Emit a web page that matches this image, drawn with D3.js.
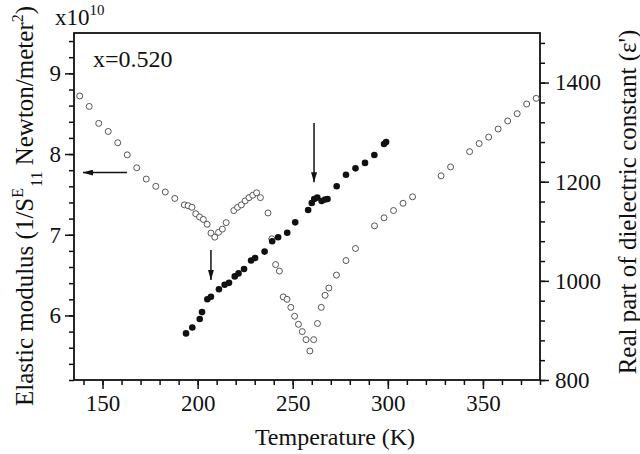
<!DOCTYPE html>
<html><head><meta charset="utf-8">
<script src="https://cdn.jsdelivr.net/npm/d3@7"></script>
<style>
html,body{margin:0;padding:0;background:#fff;}
svg{display:block;}
svg text{font-family:"Liberation Serif","DejaVu Serif","Times New Roman",Times,serif !important;fill:#111;}
</style></head>
<body>
<svg id="chart" width="640" height="454"></svg>
<script>
// Elastic modulus (open circles, left axis, x1e10 N/m^2)
const modT = [138,143,148,153,158,163,168,173,178,183,188,193,195,197,199,201,203,205,207,209,211,213,215,219,221,223,225,227,229,231,233,237,239,241,243,245,247,249,251,253,255,257,259,261,263,265,267,269,273,278,283,293,298,303,308,313,328,333,343,348,353,358,363,368,373,378];
const modE = [8.72,8.59,8.38,8.28,8.14,7.99,7.83,7.69,7.60,7.53,7.45,7.37,7.36,7.34,7.26,7.22,7.19,7.13,7.02,6.97,7.03,7.07,7.15,7.30,7.34,7.37,7.42,7.46,7.49,7.52,7.46,7.27,6.95,6.63,6.55,6.23,6.20,6.10,5.99,5.89,5.80,5.70,5.56,5.70,5.90,6.10,6.25,6.34,6.50,6.68,6.83,7.11,7.21,7.30,7.39,7.47,7.73,7.84,8.03,8.13,8.21,8.31,8.41,8.50,8.62,8.69];
// Real part of dielectric constant (filled circles, right axis)
const dielT = [193.9,197.2,201.1,202.3,205.1,207.0,211.2,214.2,216.5,219.5,221.5,224.4,228.1,230.2,235.2,239.2,242.3,247.1,251.3,258.1,260.0,261.3,262.9,265.2,267.0,268.3,273.1,278.0,283.0,288.0,292.9,298.0,299.1];
const dielE = [894,906,923,937,963,968,983,992,996,1009,1015,1024,1041,1046,1059,1080,1088,1097,1118,1143,1157,1165,1168,1161,1164,1165,1191,1214,1227,1238,1254,1276,1280];
// Ticks
const xTicks = [150,200,250,300,350];
const yLeftTicks = [6,7,8,9];
const yRightTicks = [800,1000,1200,1400];
// Arrow annotations in data coords (T, E on left axis)
const arrows = [
  {x1:162.9, y1:7.77, x2:139.7, y2:7.77},
  {x1:207.0, y1:6.81, x2:207.0, y2:6.44},
  {x1:261.2, y1:8.385, x2:261.2, y2:7.65}
];

const FONT = '"Liberation Serif","DejaVu Serif","Times New Roman",Times,serif';
const svg = d3.select("#chart");
const L=74, R=540, T=33, B=380;
const x = d3.scaleLinear().domain([135,380]).range([L,R]);
const yL = d3.scaleLinear().domain([5.2,9.5]).range([B,T]);
const yR = d3.scaleLinear().domain([800,1500]).range([B,T]);

const fs = 23;
function styleAxis(g){
  g.attr("font-family",FONT);
  g.selectAll(".domain").remove();
  g.selectAll(".tick line").attr("stroke","#111").attr("stroke-width",1.5);
  g.selectAll(".tick text").attr("font-size",fs).attr("font-family",FONT).attr("fill","#111");
}
// minor ticks
svg.append("g").attr("transform",`translate(0,${B})`)
  .call(d3.axisBottom(x).tickValues(d3.range(140,381,10)).tickSize(5).tickFormat(""))
  .call(styleAxis);
svg.append("g").attr("transform",`translate(${L},0)`)
  .call(d3.axisLeft(yL).tickValues(d3.range(5.2,9.45,0.2)).tickSize(5).tickFormat(""))
  .call(styleAxis);
svg.append("g").attr("transform",`translate(${R},0)`)
  .call(d3.axisRight(yR).tickValues(d3.range(800,1501,40)).tickSize(5).tickFormat(""))
  .call(styleAxis);
// major ticks
svg.append("g").attr("transform",`translate(0,${B})`)
  .call(d3.axisBottom(x).tickValues(xTicks).tickSize(9).tickPadding(6).tickFormat(d3.format("d")))
  .call(styleAxis);
svg.append("g").attr("transform",`translate(${L},0)`)
  .call(d3.axisLeft(yL).tickValues(yLeftTicks).tickSize(9).tickPadding(4).tickFormat(d3.format("d")))
  .call(styleAxis);
svg.append("g").attr("transform",`translate(${R},0)`)
  .call(d3.axisRight(yR).tickValues(yRightTicks).tickSize(9).tickPadding(6).tickFormat(d3.format("d")))
  .call(styleAxis);

// frame
svg.append("rect").attr("x",L).attr("y",T).attr("width",R-L).attr("height",B-T)
  .attr("fill","none").attr("stroke","#111").attr("stroke-width",1.8);

// data: open circles first
svg.append("g").selectAll("circle").data(modT).join("circle")
  .attr("cx",(d)=>x(d)).attr("cy",(d,i)=>yL(modE[i])).attr("r",3)
  .attr("fill","#fff").attr("stroke","#444").attr("stroke-width",0.9);
svg.append("g").selectAll("circle").data(dielT).join("circle")
  .attr("cx",(d)=>x(d)).attr("cy",(d,i)=>yR(dielE[i])).attr("r",3.3)
  .attr("fill","#111");

// arrows
const defs = svg.append("defs");
defs.append("marker").attr("id","ah").attr("viewBox","0 0 10 6").attr("refX",10).attr("refY",3)
  .attr("markerWidth",10).attr("markerHeight",6).attr("markerUnits","userSpaceOnUse").attr("orient","auto")
  .append("path").attr("d","M0,0 L10,3 L0,6 Z").attr("fill","#111");
svg.append("g").selectAll("line").data(arrows).join("line")
  .attr("x1",d=>x(d.x1)).attr("y1",d=>yL(d.y1)).attr("x2",d=>x(d.x2)).attr("y2",d=>yL(d.y2))
  .attr("stroke","#111").attr("stroke-width",1.5).attr("marker-end","url(#ah)");

// texts
const xt = svg.append("text").attr("x",55).attr("y",25).attr("font-size",fs).attr("font-family",FONT);
xt.append("tspan").text("x10");
xt.append("tspan").attr("dy",-10).attr("font-size",15).text("10");
svg.append("text").attr("x",93).attr("y",67).attr("font-size",24).attr("font-family",FONT).text("x=0.520");

svg.append("text").attr("x",335).attr("y",445).attr("text-anchor","middle").attr("font-size",24).attr("font-family",FONT).text("Temperature (K)");

const lt = svg.append("text").attr("transform","translate(33,206) rotate(-90)").attr("text-anchor","middle").attr("font-size",25).attr("font-family",FONT);
lt.append("tspan").text("Elastic modulus (1/S");
lt.append("tspan").attr("dy",-10).attr("font-size",16).text("E");
lt.append("tspan").attr("dy",19).attr("dx",1).attr("font-size",16).text("11");
lt.append("tspan").attr("dy",-9).text(" Newton/meter");
lt.append("tspan").attr("dy",-10).attr("font-size",16).text("2");
lt.append("tspan").attr("dy",10).text(")");

svg.append("text").attr("transform","translate(636,202) rotate(-90)").attr("text-anchor","middle").attr("font-size",25).attr("font-family",FONT)
  .text("Real part of dielectric constant (\u03B5')");
</script>
</body></html>
